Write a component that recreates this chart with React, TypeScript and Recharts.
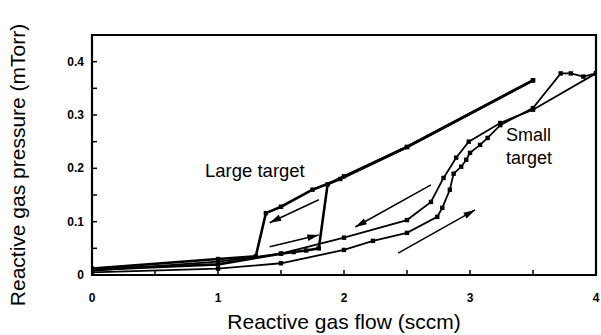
import { LineChart, Line, XAxis, YAxis, ReferenceArea, ReferenceLine } from "recharts";

// Large target, flow increasing then decreasing
const largeUp = [
  { x: 0, y: 0.01 },
  { x: 1.0, y: 0.02 },
  { x: 1.5, y: 0.04 },
  { x: 1.6, y: 0.043 },
  { x: 1.7, y: 0.046 },
  { x: 1.8, y: 0.05 },
  { x: 1.87, y: 0.17 },
  { x: 2.0, y: 0.185 },
  { x: 2.5, y: 0.24 },
  { x: 3.5, y: 0.365 },
];
const largeDown = [
  { x: 3.5, y: 0.365 },
  { x: 2.5, y: 0.24 },
  { x: 1.97, y: 0.18 },
  { x: 1.75, y: 0.16 },
  { x: 1.5, y: 0.128 },
  { x: 1.38, y: 0.116 },
  { x: 1.3, y: 0.035 },
  { x: 1.0, y: 0.03 },
  { x: 0, y: 0.012 },
];

// Small target
const smallUp = [
  { x: 0, y: 0.005 },
  { x: 1.0, y: 0.012 },
  { x: 1.5, y: 0.022 },
  { x: 2.0, y: 0.047 },
  { x: 2.23, y: 0.064 },
  { x: 2.5, y: 0.079 },
  { x: 2.74, y: 0.109 },
  { x: 2.78, y: 0.126 },
  { x: 2.84, y: 0.16 },
  { x: 2.87, y: 0.19 },
  { x: 2.93, y: 0.203 },
  { x: 2.97, y: 0.216 },
  { x: 3.0, y: 0.229 },
  { x: 3.08, y: 0.244 },
  { x: 3.14, y: 0.257 },
  { x: 3.24, y: 0.281 },
  { x: 3.5, y: 0.313 },
  { x: 3.72, y: 0.378 },
  { x: 3.8, y: 0.378 },
  { x: 3.9, y: 0.372 },
  { x: 4.0, y: 0.378 },
];
const smallDown = [
  { x: 4.0, y: 0.378 },
  { x: 3.5, y: 0.31 },
  { x: 3.24, y: 0.285 },
  { x: 2.99, y: 0.25 },
  { x: 2.89, y: 0.22 },
  { x: 2.79, y: 0.182 },
  { x: 2.69, y: 0.137 },
  { x: 2.5, y: 0.103 },
  { x: 2.0, y: 0.07 },
  { x: 1.5, y: 0.04 },
  { x: 1.0, y: 0.025 },
  { x: 0, y: 0.008 },
];

// direction arrows: [fromX, fromY, toX, toY]
const arrows = [
  [1.8, 0.141, 1.41, 0.098],
  [1.41, 0.053, 1.8, 0.075],
  [2.69, 0.169, 2.09, 0.09],
  [2.43, 0.041, 3.04, 0.122],
];

const xTicks = [0, 0.5, 1, 1.5, 2, 2.5, 3, 3.5, 4];
const yTicks = [0, 0.05, 0.1, 0.15, 0.2, 0.25, 0.3, 0.35, 0.4];

const W = 601;
const H = 335;
const LEFT = 92;
const TOP = 35;
const BOTTOM = 275;
const FONT = "'Liberation Sans', Arial, sans-serif";

const isMajor = (v: number, step: number) => Math.abs(v / step - Math.round(v / step)) < 1e-6;

const XTick = (props: any) => {
  const { x, payload } = props;
  const v = payload.value;
  return (
    <g>
      <line x1={x} x2={x} y1={BOTTOM} y2={BOTTOM - 5} stroke="#000" strokeWidth={1.5} />
      {isMajor(v, 1) && (
        <text x={x} y={BOTTOM + 27} textAnchor="middle" fontSize={12} fontWeight="bold" fontFamily={FONT} fill="#000">
          {v}
        </text>
      )}
    </g>
  );
};

const YTick = (props: any) => {
  const { y, payload } = props;
  const v = payload.value;
  return (
    <g>
      <line x1={LEFT} x2={LEFT + 5} y1={y} y2={y} stroke="#000" strokeWidth={1.5} />
      {isMajor(v, 0.1) && (
        <text x={84} y={y + 4} textAnchor="end" fontSize={12} fontWeight="bold" fontFamily={FONT} fill="#000">
          {v === 0 ? "0" : v.toFixed(1)}
        </text>
      )}
    </g>
  );
};

const Square = (props: any) => {
  const { cx, cy, index } = props;
  if (cx == null || cy == null) return <g key={index} />;
  return <rect key={index} x={cx - 2.2} y={cy - 2.2} width={4.4} height={4.4} fill="#000" />;
};

const Arrow = (props: any) => {
  const { x1, y1, x2, y2 } = props;
  const a = Math.atan2(y2 - y1, x2 - x1);
  const len = 12;
  const spread = 0.28;
  const p1 = [x2 - len * Math.cos(a - spread), y2 - len * Math.sin(a - spread)];
  const p2 = [x2 - len * Math.cos(a + spread), y2 - len * Math.sin(a + spread)];
  return (
    <g>
      <line x1={x1} y1={y1} x2={x2} y2={y2} stroke="#000" strokeWidth={1.5} />
      <polygon points={`${x2},${y2} ${p1[0]},${p1[1]} ${p2[0]},${p2[1]}`} fill="#000" />
    </g>
  );
};

export default function App() {
  return (
    <div style={{ position: "absolute", left: 0, top: 0, width: W, height: H, background: "#fff" }}>
      <LineChart width={W} height={H} margin={{ top: TOP, right: 5, bottom: 0, left: 0 }}>
        <XAxis
          type="number"
          dataKey="x"
          domain={[0, 4]}
          ticks={xTicks}
          tick={<XTick />}
          tickLine={false}
          axisLine={false}
          height={H - BOTTOM}
          interval={0}
          allowDataOverflow
        />
        <YAxis
          type="number"
          dataKey="y"
          domain={[0, 0.45]}
          ticks={yTicks}
          tick={<YTick />}
          tickLine={false}
          axisLine={false}
          width={LEFT}
          interval={0}
          allowDataOverflow
        />
        <ReferenceArea x1={0} x2={4} y1={0} y2={0.45} fill="none" stroke="#000" strokeWidth={2.2} ifOverflow="visible" />
        <Line data={largeUp} dataKey="y" stroke="#000" strokeWidth={2.6} dot={Square} isAnimationActive={false} />
        <Line data={largeDown} dataKey="y" stroke="#000" strokeWidth={2.6} dot={Square} isAnimationActive={false} />
        <Line data={smallUp} dataKey="y" stroke="#000" strokeWidth={1.8} dot={Square} isAnimationActive={false} />
        <Line data={smallDown} dataKey="y" stroke="#000" strokeWidth={1.8} dot={Square} isAnimationActive={false} />
        {arrows.map((a, i) => (
          <ReferenceLine
            key={i}
            segment={[
              { x: a[0], y: a[1] },
              { x: a[2], y: a[3] },
            ]}
            shape={<Arrow />}
            ifOverflow="visible"
          />
        ))}
        <text x={205} y={177} fontSize={18.5} fontFamily={FONT} fill="#000">Large target</text>
        <text x={506} y={141} fontSize={18} fontFamily={FONT} fill="#000">Small</text>
        <text x={506} y={164} fontSize={18} fontFamily={FONT} fill="#000">target</text>
        <text x={344} y={329} textAnchor="middle" fontSize={21} fontFamily={FONT} fill="#000">
          Reactive gas flow (sccm)
        </text>
        <text
          x={25}
          y={165}
          textAnchor="middle"
          fontSize={21}
          fontFamily={FONT}
          fill="#000"
          transform="rotate(-90 25 165)"
        >
          Reactive gas pressure (mTorr)
        </text>
      </LineChart>
    </div>
  );
}
